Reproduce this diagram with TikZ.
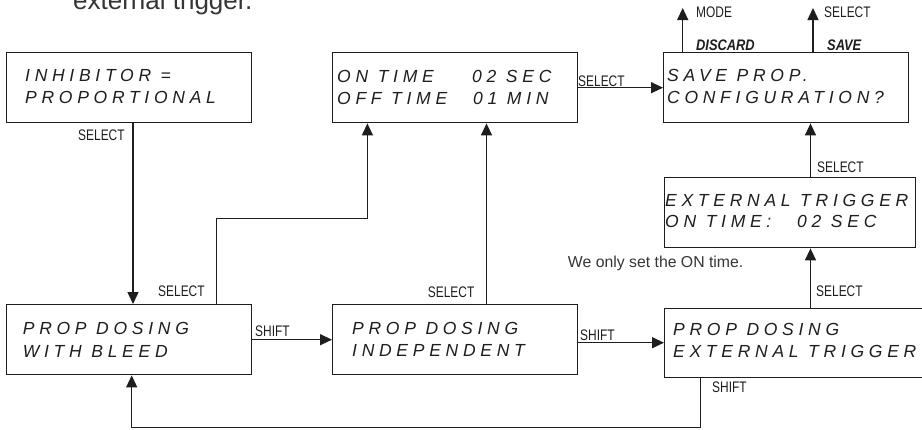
\documentclass[tikz,border=0pt]{standalone}
\usepackage{fontspec}
\setmainfont{Liberation Sans}
\newfontfamily\lcdfont[LetterSpace=27]{Liberation Sans}
\newfontfamily\lblfont[FakeStretch=0.78]{Liberation Sans}
\newfontfamily\bldfont[FakeStretch=0.84]{Liberation Sans}
\usetikzlibrary{arrows.meta}
\definecolor{ink}{HTML}{1E1E1E}
\begin{document}
\begin{tikzpicture}[x=1pt,y=-1pt,
  box/.style={draw=ink, line width=1.4pt, anchor=north west, inner sep=0pt, rectangle},
  lcd/.style={anchor=base west, inner sep=0pt, text=ink, font=\lcdfont\itshape\fontsize{17.5}{20}\selectfont},
  lbl/.style={anchor=base west, inner sep=0pt, text=ink, font=\lblfont\fontsize{15.3}{17}\selectfont},
  bld/.style={anchor=base west, inner sep=0pt, text=ink, font=\bldfont\bfseries\itshape\fontsize{15.3}{17}\selectfont},
  note/.style={inner sep=0pt, text=ink!90, font=\fontsize{15.8}{18}\selectfont},
  arr/.style={draw=ink, line width=1.4pt, -{Triangle[length=12pt,width=11pt]}},
]
\fill[white] (0,0) rectangle (922,429);
\useasboundingbox (0,0) rectangle (922,429);

% caption fragment (cut off at top, as in the reference)
\node[note, anchor=base west, font=\fontsize{26}{30}\selectfont] (cap) at (73,9.3) {external trigger.};

% boxes
\node[box, minimum width=245pt, minimum height=70pt] (b1) at (6,52) {};
\node[box, minimum width=245pt, minimum height=70pt] (b2) at (332,52) {};
\node[box, minimum width=245pt, minimum height=70pt] (b3) at (663,52) {};
\node[box, minimum width=251pt, minimum height=70pt] (b4) at (664,177) {};
\node[box, minimum width=245pt, minimum height=70pt] (b5) at (6,304) {};
\node[box, minimum width=245pt, minimum height=70pt] (b6) at (332,304) {};
\node[box, minimum width=275pt, minimum height=69pt] (b7) at (664,307.5) {};

% display texts
\node[lcd] (t1a) at (25,81.7) {INHIBITOR =};
\node[lcd] (t1b) at (25,103.3) {PROPORTIONAL};
\node[lcd] (t2a) at (337,82) {\makebox[135pt][l]{ON TIME}02 SEC};
\node[lcd] (t2b) at (337,104) {\makebox[136pt][l]{OFF TIME}01 MIN};
\node[lcd] (t3a) at (667,81) {SAVE PROP.};
\node[lcd] (t3b) at (667,103.3) {CONFIGURATION?};
\node[lcd] (t4a) at (665,206.7) {EXTERNAL TRIGGER};
\node[lcd] (t4b) at (665,227) {\makebox[132pt][l]{ON TIME:}02 SEC};
\node[lcd] (t5a) at (22.7,334) {PROP DOSING};
\node[lcd] (t5b) at (22.7,357.3) {WITH BLEED};
\node[lcd] (t6a) at (352,334) {PROP DOSING};
\node[lcd] (t6b) at (352,356) {INDEPENDENT};
\node[lcd] (t7a) at (673,335) {PROP DOSING};
\node[lcd] (t7b) at (673,357) {EXTERNAL TRIGGER};

% free ends and guide coordinates
\coordinate (m) at (682.7,8);
\coordinate (s) at (813,8);
\coordinate (xr) at (810.5,0);
\coordinate (ys) at (0,342.7);
\coordinate (lp) at (700.7,427.3);

% connectors
\draw[arr] ([xshift=3.8pt]b1.south) -- ([xshift=3.8pt]b5.north);
\draw[arr] ([xshift=87.2pt]b5.north) -- ++(0,-85.7) -| ([xshift=-87.8pt]b2.south);
\draw[arr] ([xshift=31.3pt]b6.north) -- ([xshift=31.3pt]b2.south);
\draw[arr] (b2.east) -- (b3.west);
\draw[arr] (b3.north -| m) -- (m);
\draw[arr] (b3.north -| s) -- (s);
\draw[arr] (b4.north -| xr) -- (b3.south -| xr);
\draw[arr] (b7.north -| xr) -- (b4.south -| xr);
\draw[arr] (b5.east) -- (b6.west);
\draw[arr] (b6.east |- ys) -- (b7.west |- ys);
\draw[arr] (b7.south -| lp) -- (lp) -| ([xshift=2.5pt]b5.south);

% labels
\node[lbl] (l1) at (78,140) {SELECT};
\node[lbl] (l2) at (158,296.7) {SELECT};
\node[lbl] (l3) at (427.7,297.3) {SELECT};
\node[lbl] (l4) at (578,86) {SELECT};
\node[lbl] (l5) at (696,17) {MODE};
\node[lbl] (l6) at (824,17) {SELECT};
\node[bld] (l7) at (696,50) {DISCARD};
\node[bld] (l8) at (827,50) {SAVE};
\node[lbl] (l9) at (817,172.7) {SELECT};
\node[lbl] (l10) at (816,296.7) {SELECT};
\node[lbl] (l11) at (255,336.7) {SHIFT};
\node[lbl] (l12) at (580,340.7) {SHIFT};
\node[lbl] (l13) at (712,392.7) {SHIFT};
\node[note, anchor=base east] (n1) at (743.5,267.3) {We only set the ON time.};
\end{tikzpicture}
\end{document}
